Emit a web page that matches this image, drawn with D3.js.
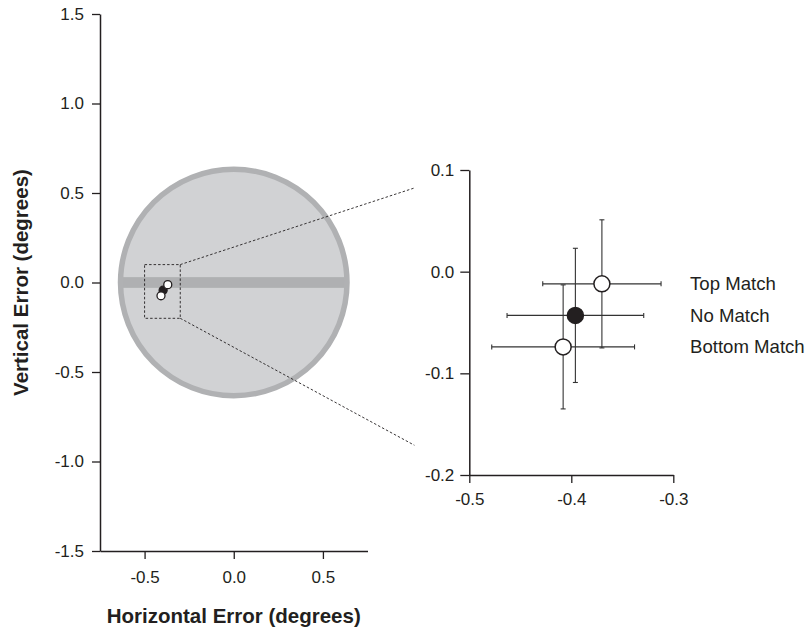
<!DOCTYPE html>
<html>
<head>
<meta charset="utf-8">
<script src="https://cdn.jsdelivr.net/npm/d3@7"></script>
<style>
  body { margin: 0; background: #fff; }
  svg text { font-family: Arial, "Liberation Sans", sans-serif; fill: #231f20; }
</style>
</head>
<body>
<svg id="chart" width="807" height="633"></svg>
<script>
// condition means and error bars (degrees)
const conditions = ["Top Match", "No Match", "Bottom Match"];
const meanX = [-0.370, -0.396, -0.408];
const meanY = [-0.012, -0.043, -0.074];
const errX = [0.058, 0.067, 0.070];
const errY = [0.063, 0.066, 0.061];
const filled = [false, true, false];

// target area
const targetRadius = 0.635;
const stripeHalf = 0.03;

// ticks
const mainXTicks = [-0.5, 0, 0.5];
const mainYTicks = [-1.5, -1.0, -0.5, 0, 0.5, 1.0, 1.5];
const zoomXTicks = [-0.5, -0.4, -0.3];
const zoomYTicks = [-0.2, -0.1, 0, 0.1];

const fmt = d => d.toFixed(1);
const ink = "#231f20";

let svg = d3.select("#chart");

// main panel scales
let xMain = d3.scaleLinear().domain([-0.75, 0.75]).range([100, 367.5]);
let yMain = d3.scaleLinear().domain([-1.5, 1.5]).range([551, 14]);
// zoom panel scales
let xZoom = d3.scaleLinear().domain([-0.5, -0.3]).range([469.3, 673.3]);
let yZoom = d3.scaleLinear().domain([-0.2, 0.1]).range([475, 170]);

let data = conditions.map((c, i) => ({
    name: c, x: meanX[i], y: meanY[i], ex: errX[i], ey: errY[i], filled: filled[i]
}));

// target circle
let rPx = xMain(targetRadius) - xMain(0);
svg.append("circle")
    .attr("cx", xMain(0)).attr("cy", yMain(0)).attr("r", rPx)
    .attr("fill", "#d1d2d4");
svg.append("rect")
    .attr("x", xMain(-targetRadius)).attr("width", xMain(targetRadius) - xMain(-targetRadius))
    .attr("y", yMain(stripeHalf)).attr("height", yMain(-stripeHalf) - yMain(stripeHalf))
    .attr("fill", "#afb0b2");
svg.append("circle")
    .attr("cx", xMain(0)).attr("cy", yMain(0)).attr("r", rPx)
    .attr("fill", "none").attr("stroke", "#b0b1b3").attr("stroke-width", 5.5);

// zoom rectangle on main panel
let zx0 = xMain(-0.5), zx1 = xMain(-0.3), zy0 = yMain(0.1), zy1 = yMain(-0.2);
svg.append("rect")
    .attr("x", zx0).attr("y", zy0).attr("width", zx1 - zx0).attr("height", zy1 - zy0)
    .attr("fill", "none").attr("stroke", ink).attr("stroke-width", 0.9)
    .attr("stroke-dasharray", "2.5,2");

// connector lines, stopping short of the inset
const stopFrac = 0.81;
[[zx1, zy0, xZoom(-0.5), yZoom(0.1)], [zx1, zy1, xZoom(-0.5), yZoom(-0.2)]].forEach(p => {
    svg.append("line")
        .attr("x1", p[0]).attr("y1", p[1])
        .attr("x2", p[0] + (p[2] - p[0]) * stopFrac)
        .attr("y2", p[1] + (p[3] - p[1]) * stopFrac)
        .attr("stroke", ink).attr("stroke-width", 0.9)
        .attr("stroke-dasharray", "2.5,2");
});

// points on the main panel (filled first, open on top)
let order = data.slice().sort((a, b) => (b.filled ? 1 : 0) - (a.filled ? 1 : 0));
svg.append("g").selectAll("circle").data(order).enter().append("circle")
    .attr("cx", d => xMain(d.x)).attr("cy", d => yMain(d.y)).attr("r", 4)
    .attr("fill", d => d.filled ? ink : "#fff")
    .attr("stroke", ink).attr("stroke-width", 1.3);

// axes helper
function styleAxis(g, size) {
    g.select(".domain").attr("stroke", ink).attr("stroke-width", 1.5);
    g.selectAll(".tick line").attr("stroke", ink).attr("stroke-width", 1.3);
    g.selectAll(".tick text").attr("fill", ink).attr("font-size", size)
        .attr("font-family", 'Arial, "Liberation Sans", sans-serif');
}

svg.append("g")
    .attr("transform", `translate(${xMain.range()[0]},0)`)
    .call(d3.axisLeft(yMain).tickValues(mainYTicks).tickFormat(fmt).tickSize(8).tickSizeOuter(0).tickPadding(8))
    .call(g => styleAxis(g, 17));
svg.append("g")
    .attr("transform", `translate(0,${yMain.range()[0]})`)
    .call(d3.axisBottom(xMain).tickValues(mainXTicks).tickFormat(fmt).tickSize(8).tickSizeOuter(0).tickPadding(12))
    .call(g => styleAxis(g, 17));

svg.append("text")
    .attr("transform", `translate(20,${(yMain(1.5) + yMain(-1.5)) / 2}) rotate(-90)`)
    .attr("text-anchor", "middle").attr("dominant-baseline", "central")
    .attr("font-weight", "bold").attr("font-size", 20.5)
    .text("Vertical Error (degrees)");
svg.append("text")
    .attr("x", xMain(0)).attr("y", 615)
    .attr("text-anchor", "middle").attr("dominant-baseline", "central")
    .attr("font-weight", "bold").attr("font-size", 20.5)
    .text("Horizontal Error (degrees)");

// inset axes
svg.append("g")
    .attr("transform", `translate(${xZoom.range()[0]},0)`)
    .call(d3.axisLeft(yZoom).tickValues(zoomYTicks).tickFormat(fmt).tickSize(9).tickSizeOuter(0).tickPadding(6))
    .call(g => styleAxis(g, 17));
svg.append("g")
    .attr("transform", `translate(0,${yZoom.range()[0]})`)
    .call(d3.axisBottom(xZoom).tickValues(zoomXTicks).tickFormat(fmt).tickSize(8).tickSizeOuter(0).tickPadding(10))
    .call(g => styleAxis(g, 17));

// error bars
let eb = svg.append("g").attr("stroke", "#333").attr("stroke-width", 1.1);
const cap = 2.5;
data.forEach(d => {
    let cx = xZoom(d.x), cy = yZoom(d.y);
    let xl = xZoom(d.x - d.ex), xr = xZoom(d.x + d.ex);
    let yt = yZoom(d.y + d.ey), yb = yZoom(d.y - d.ey);
    eb.append("line").attr("x1", xl).attr("x2", xr).attr("y1", cy).attr("y2", cy);
    eb.append("line").attr("x1", cx).attr("x2", cx).attr("y1", yt).attr("y2", yb);
    eb.append("line").attr("x1", xl).attr("x2", xl).attr("y1", cy - cap).attr("y2", cy + cap);
    eb.append("line").attr("x1", xr).attr("x2", xr).attr("y1", cy - cap).attr("y2", cy + cap);
    eb.append("line").attr("x1", cx - cap).attr("x2", cx + cap).attr("y1", yt).attr("y2", yt);
    eb.append("line").attr("x1", cx - cap).attr("x2", cx + cap).attr("y1", yb).attr("y2", yb);
});

// inset markers
svg.append("g").selectAll("circle").data(order).enter().append("circle")
    .attr("cx", d => xZoom(d.x)).attr("cy", d => yZoom(d.y)).attr("r", 8)
    .attr("fill", d => d.filled ? ink : "#fff")
    .attr("stroke", ink).attr("stroke-width", 1.5);

// labels
svg.append("g").selectAll("text").data(data).enter().append("text")
    .attr("x", 690).attr("y", d => yZoom(d.y))
    .attr("dominant-baseline", "central")
    .attr("font-size", 18.6)
    .text(d => d.name);
</script>
</body>
</html>
